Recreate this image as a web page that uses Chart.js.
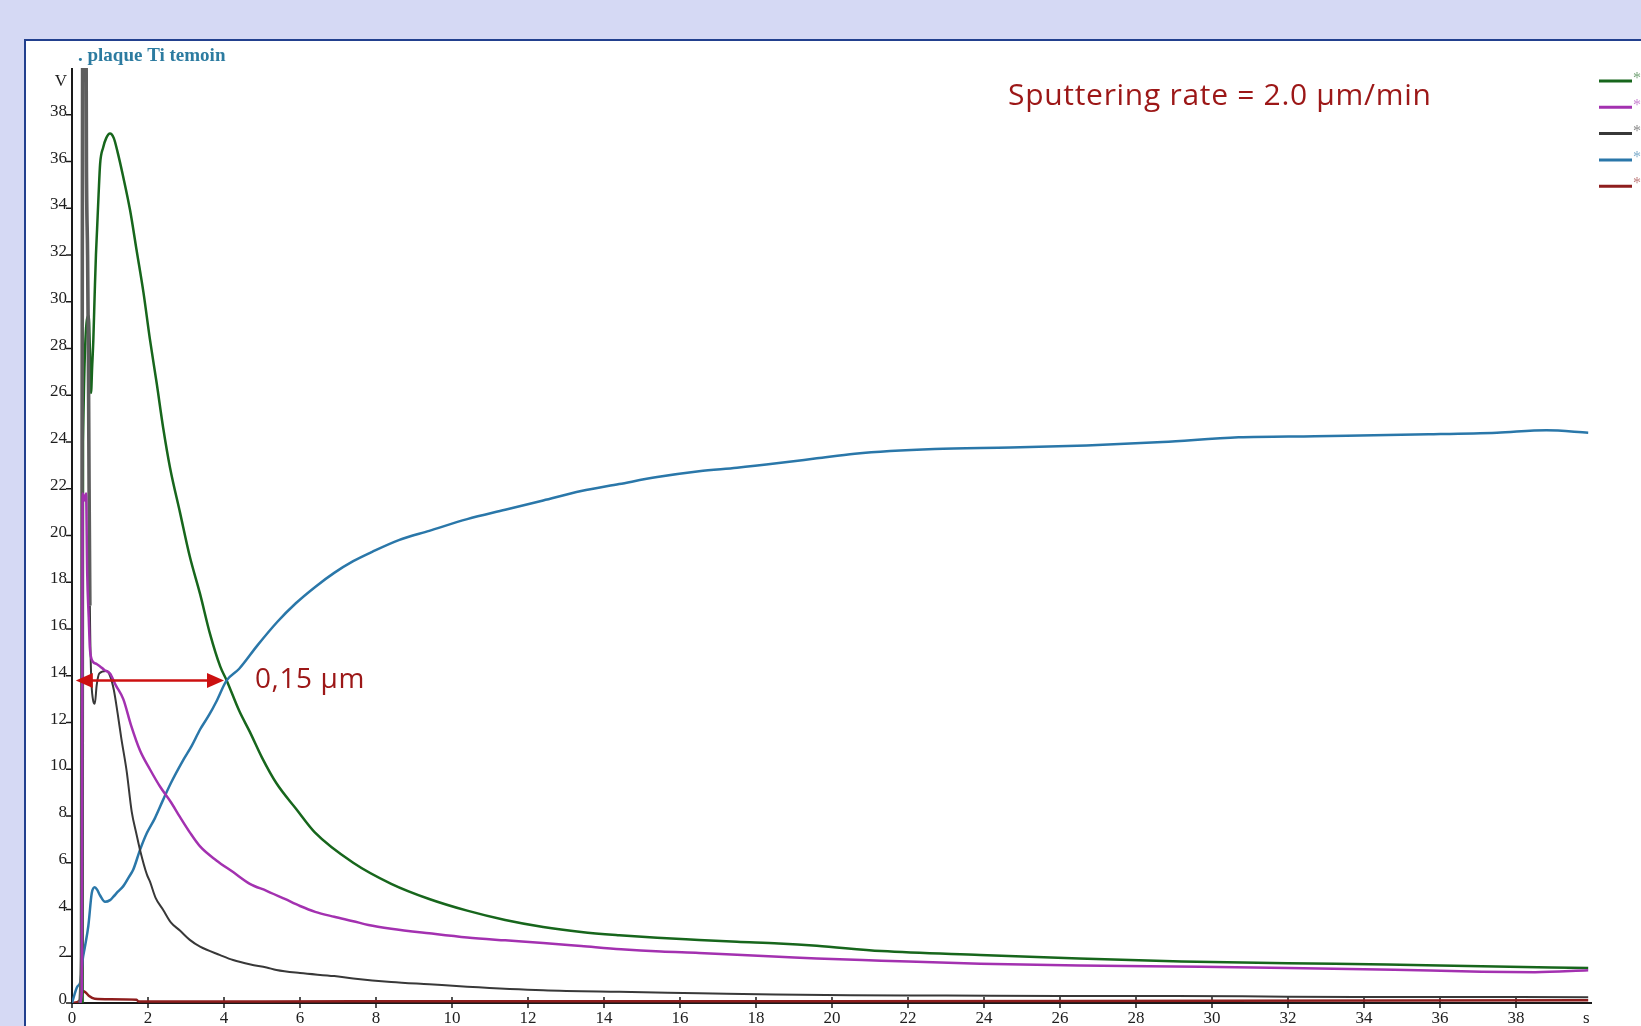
<!DOCTYPE html>
<html>
<head>
<meta charset="utf-8">
<script src="https://cdn.jsdelivr.net/npm/chart.js@4.4.1/dist/chart.umd.min.js"></script>
<style>
  html, body { margin: 0; padding: 0; }
  body { width: 1641px; height: 1026px; background: #d5d9f4; overflow: hidden; position: relative; }
  #panel { position: absolute; left: 24px; top: 39px; width: 1640px; height: 1000px; background: #fff;
           border-left: 2px solid #22408e; border-top: 2px solid #22408e; }
  #profile { position: absolute; left: 0; top: 0; }
</style>
</head>
<body>
<div id="panel"></div>
<canvas id="profile" width="1641" height="1026"></canvas>
<script>
// axes
var xTicks = [0, 2, 4, 6, 8, 10, 12, 14, 16, 18, 20, 22, 24, 26, 28, 30, 32, 34, 36, 38];
var yTicks = [0, 2, 4, 6, 8, 10, 12, 14, 16, 18, 20, 22, 24, 26, 28, 30, 32, 34, 36, 38];
var xUnit = 's';
var yUnit = 'V';

var greenPts = [[0.28, 0], [0.29, 24], [0.44, 29.4], [0.47, 28.0], [0.5, 26.1], [0.53, 27.2],
  [0.56, 28.3], [0.6, 30.5], [0.63, 32], [0.66, 33.1], [0.7, 34.6], [0.74, 35.9], [0.82, 36.6], [0.9, 37.0],
  [1.0, 37.2], [1.1, 37.0], [1.2, 36.4], [1.34, 35.4], [1.53, 33.9], [1.7, 32.2], [1.88, 30.4], [2.05, 28.4],
  [2.23, 26.5], [2.4, 24.6], [2.58, 22.9], [2.84, 21.0], [3.1, 19.1], [3.37, 17.5], [3.63, 15.8], [3.9, 14.4],
  [4.07, 13.8], [4.4, 12.5], [4.68, 11.6], [5.0, 10.5], [5.38, 9.4], [5.9, 8.3], [6.39, 7.3], [7.4, 6.0],
  [8.4, 5.1], [9.4, 4.45], [10.4, 3.95], [11.4, 3.55], [12.4, 3.25], [13.4, 3.04], [14.4, 2.9], [15.4, 2.79],
  [16.5, 2.7], [17.5, 2.62], [18.6, 2.55], [19.6, 2.45], [21.3, 2.22], [23.9, 2.05], [26.5, 1.9], [29.2, 1.78],
  [32, 1.7], [34.6, 1.65], [37.1, 1.57], [39.9, 1.5]];

var purplePts = [[0.2, 0], [0.26, 0.5], [0.28, 21.8], [0.34, 21.5], [0.37, 21.8], [0.4, 18.4], [0.44, 16.5],
  [0.47, 15.2], [0.5, 14.8], [0.55, 14.6], [0.65, 14.5], [0.74, 14.4], [0.85, 14.25], [1.0, 14.1], [1.15, 13.6],
  [1.35, 13.0], [1.55, 11.9], [1.79, 10.8], [2.05, 10.0], [2.32, 9.25], [2.6, 8.6], [2.84, 7.96], [3.1, 7.3],
  [3.37, 6.7], [3.8, 6.1], [4.24, 5.6], [4.68, 5.1], [5.12, 4.8], [5.6, 4.45], [6.0, 4.15], [6.4, 3.9],
  [6.9, 3.69], [7.4, 3.5], [7.8, 3.34], [8.4, 3.18], [9.4, 2.98], [10.4, 2.8], [11.4, 2.68], [12.4, 2.57],
  [13.4, 2.44], [14.45, 2.3], [15.5, 2.2], [16.5, 2.14], [17.5, 2.06], [18.6, 1.98], [19.6, 1.9], [21.3, 1.81],
  [23.9, 1.68], [26.5, 1.6], [29.7, 1.55], [32, 1.5], [34.8, 1.42], [37.1, 1.34], [38.5, 1.32], [39.9, 1.4]];

var blackPts = [[0.2, 0], [0.25, 2], [0.27, 30], [0.29, 46], [0.36, 46], [0.38, 36], [0.41, 32], [0.43, 28],
  [0.45, 22], [0.47, 17], [0.5, 14.2], [0.55, 13.0], [0.6, 12.8], [0.65, 13.6], [0.72, 14.1], [0.9, 14.2],
  [1.0, 14.0], [1.1, 13.4], [1.2, 12.4], [1.3, 11.3], [1.44, 9.9], [1.57, 8.2], [1.7, 7.2], [1.79, 6.55],
  [1.97, 5.5], [2.05, 5.2], [2.2, 4.5], [2.4, 3.98], [2.6, 3.45], [2.84, 3.1], [3.1, 2.7], [3.37, 2.41],
  [3.9, 2.05], [4.24, 1.84], [4.7, 1.65], [5.12, 1.52], [5.38, 1.41], [6.0, 1.28], [6.9, 1.15], [7.4, 1.05],
  [8.4, 0.9], [9.4, 0.8], [10.4, 0.7], [12.4, 0.55], [14.4, 0.48], [16.5, 0.42], [18.5, 0.36], [20.5, 0.33],
  [23, 0.32], [26, 0.3], [29, 0.3], [32, 0.27], [34, 0.26], [36, 0.26], [39.9, 0.25]];

var bluePts = [[0, 0], [0.14, 0.7], [0.22, 0.9], [0.28, 1.85], [0.34, 2.4], [0.43, 3.3], [0.52, 4.7],
  [0.6, 4.95], [0.66, 4.85], [0.74, 4.6], [0.87, 4.33], [1.0, 4.4], [1.09, 4.55], [1.2, 4.75], [1.35, 5.0],
  [1.5, 5.4], [1.61, 5.7], [1.79, 6.55], [1.97, 7.27], [2.18, 7.9], [2.4, 8.7], [2.6, 9.4], [2.93, 10.4],
  [3.15, 11.0], [3.37, 11.7], [3.6, 12.3], [3.8, 12.9], [4.07, 13.8], [4.4, 14.3], [4.88, 15.3], [5.4, 16.3],
  [5.89, 17.1], [6.4, 17.8], [6.9, 18.4], [7.4, 18.9], [7.9, 19.3], [8.6, 19.8], [9.4, 20.2], [10.4, 20.7],
  [11.4, 21.1], [12.4, 21.5], [13.4, 21.9], [14.4, 22.2], [15.4, 22.5], [16.5, 22.75], [17.5, 22.9],
  [18.6, 23.1], [19.6, 23.3], [20.6, 23.5], [22.7, 23.7], [24.7, 23.76], [26.7, 23.85], [28.7, 24.0],
  [30.7, 24.2], [32.7, 24.25], [35.7, 24.33], [37.5, 24.4], [38.8, 24.5], [39.9, 24.4]];

var redPts = [[0, 0], [0.2, 0.1], [0.3, 0.5], [0.36, 0.45], [0.45, 0.3], [0.6, 0.18], [1.0, 0.16], [1.7, 0.14],
  [1.75, 0.06], [5, 0.06], [10, 0.08], [20, 0.08], [30, 0.1], [39.9, 0.12]];

// annotations
var rateText = 'Sputtering rate = 2.0 \u00b5m/min';
var depthText = '0,15 \u00b5m';
var titleText = '. plaque Ti temoin';
var arrowFrom = 0.1, arrowTo = 4.0, arrowY = 13.8;

function toXY(pts) {
    return pts.map(function (p) { return { x: p[0], y: p[1] }; });
}

function serie(pts, color, width, order) {
    return {
        label: '*',
        data: toXY(pts),
        borderColor: color,
        borderWidth: width,
        pointRadius: 0,
        showLine: true,
        fill: false,
        cubicInterpolationMode: 'monotone',
        order: order
    };
}

// axes, graduations, legende et textes
var decor = {
    id: 'decor',
    beforeDatasetsDraw: function (chart) {
        var ctx = chart.ctx, x = chart.scales.x, y = chart.scales.y;
        var x0 = x.getPixelForValue(0), x1 = x.getPixelForValue(40);
        var y0 = y.getPixelForValue(0), y1 = y.getPixelForValue(40);
        ctx.save();
        ctx.strokeStyle = '#1a1a1a';
        ctx.lineWidth = 2;
        ctx.beginPath();
        ctx.moveTo(x0, y1);
        ctx.lineTo(x0, y0);
        ctx.lineTo(x1, y0);
        ctx.stroke();

        ctx.lineWidth = 1.5;
        ctx.font = '17px "Liberation Serif", serif';
        ctx.fillStyle = '#1e1e1e';
        ctx.textAlign = 'right';
        ctx.textBaseline = 'alphabetic';
        yTicks.forEach(function (v) {
            var py = y.getPixelForValue(v);
            ctx.beginPath();
            ctx.moveTo(x0 - 6, py);
            ctx.lineTo(x0, py);
            ctx.stroke();
            ctx.fillText(String(v), x0 - 5, py + 1);
        });
        ctx.fillText(yUnit, x0 - 5, y1 + 18);

        ctx.textAlign = 'center';
        ctx.textBaseline = 'top';
        xTicks.forEach(function (v) {
            var px = x.getPixelForValue(v);
            ctx.beginPath();
            ctx.moveTo(px, y0 - 6);
            ctx.lineTo(px, y0 + 5);
            ctx.stroke();
            ctx.fillText(String(v), px, y0 + 7);
        });
        ctx.fillText(xUnit, x.getPixelForValue(39.85), y0 + 7);
        ctx.restore();
    },
    afterDatasetsDraw: function (chart) {
        var ctx = chart.ctx, x = chart.scales.x, y = chart.scales.y;
        ctx.save();

        // fleche rouge
        var ay = y.getPixelForValue(arrowY);
        var ax0 = x.getPixelForValue(arrowFrom), ax1 = x.getPixelForValue(arrowTo);
        ctx.strokeStyle = '#cc1010';
        ctx.fillStyle = '#cc1010';
        ctx.lineWidth = 2.5;
        ctx.beginPath();
        ctx.moveTo(ax0 + 10, ay);
        ctx.lineTo(ax1 - 10, ay);
        ctx.stroke();
        ctx.beginPath();
        ctx.moveTo(ax0, ay);
        ctx.lineTo(ax0 + 17, ay - 7.5);
        ctx.lineTo(ax0 + 17, ay + 7.5);
        ctx.closePath();
        ctx.fill();
        ctx.beginPath();
        ctx.moveTo(ax1, ay);
        ctx.lineTo(ax1 - 17, ay - 7.5);
        ctx.lineTo(ax1 - 17, ay + 7.5);
        ctx.closePath();
        ctx.fill();

        ctx.fillStyle = '#9c1717';
        ctx.font = '28px "Open Sans", sans-serif';
        ctx.letterSpacing = '0.6px';
        ctx.textAlign = 'left';
        ctx.textBaseline = 'middle';
        ctx.fillText(depthText, ax1 + 31, ay);

        ctx.font = '30px "Open Sans", sans-serif';
        ctx.letterSpacing = '0.7px';
        ctx.textBaseline = 'alphabetic';
        ctx.fillText(rateText, 1008, 105);
        ctx.letterSpacing = '0px';

        // titre
        ctx.fillStyle = '#2c7ba0';
        ctx.font = 'bold 19px "Liberation Serif", serif';
        ctx.fillText(titleText, 78, 61);

        // legende (coupee au bord droit)
        ctx.font = '16px "Liberation Serif", serif';
        ctx.textBaseline = 'middle';
        chart.data.datasets.forEach(function (ds, i) {
            var ly = 81 + i * 26.3;
            ctx.strokeStyle = ds.borderColor;
            ctx.lineWidth = 3;
            ctx.beginPath();
            ctx.moveTo(1599, ly);
            ctx.lineTo(1632, ly);
            ctx.stroke();
            ctx.fillStyle = ds.borderColor;
            ctx.globalAlpha = 0.6;
            ctx.fillText(ds.label, 1633, ly - 2);
            ctx.globalAlpha = 1;
        });
        ctx.restore();
    }
};

var blackSerie = serie(blackPts, '#383838', 2, 1);
// la saturation du debut apparait comme une bande grise epaisse
blackSerie.segment = {
    borderWidth: function (c) { return c.p0.parsed.x < 0.47 ? 3.6 : undefined; },
    borderColor: function (c) { return c.p0.parsed.x < 0.47 ? '#5e5e5e' : undefined; }
};

var ctxProfile = document.getElementById('profile').getContext('2d');
window.profileChart = new Chart(ctxProfile, {
    type: 'scatter',
    data: {
        datasets: [
            serie(greenPts, '#17661c', 2.5, 3),
            serie(purplePts, '#a331b0', 2.5, 0),
            blackSerie,
            serie(bluePts, '#2a77a9', 2.5, 2),
            serie(redPts, '#8e1d1d', 2.5, 4)
        ]
    },
    options: {
        responsive: false,
        animation: false,
        devicePixelRatio: 1,
        layout: { padding: { left: 72, top: 68, right: 49, bottom: 23 } },
        plugins: {
            legend: { display: false },
            tooltip: { enabled: false }
        },
        scales: {
            x: { type: 'linear', min: 0, max: 40, display: false },
            y: { type: 'linear', min: 0, max: 40, display: false }
        }
    },
    plugins: [decor]
});
</script>
</body>
</html>
